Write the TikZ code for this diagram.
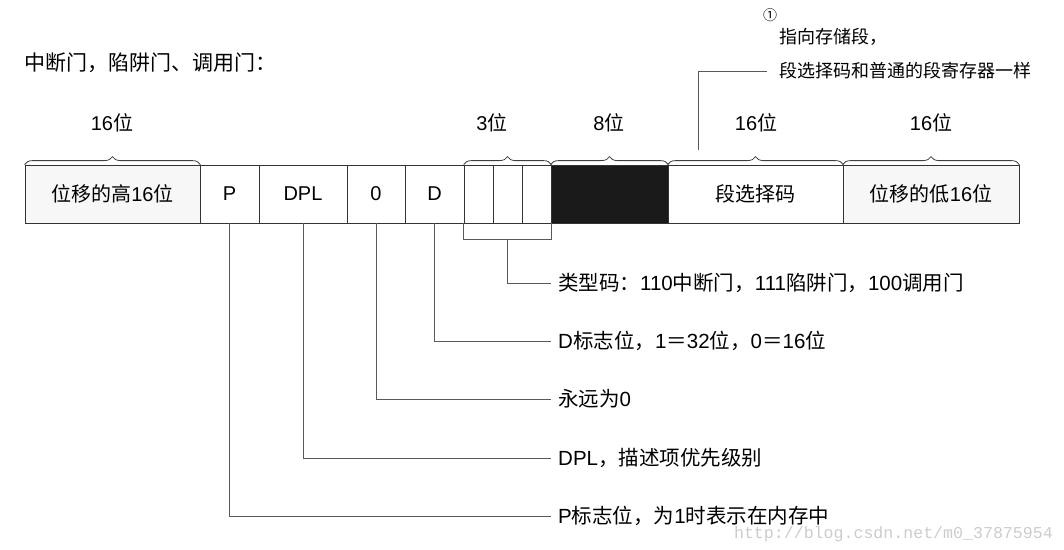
\documentclass[tikz,border=0pt]{standalone}
\usepackage{fontspec}
\setmainfont{Liberation Sans}
\newfontfamily\cjk{Noto Sans CJK SC}
\newfontfamily\wmfont{Liberation Mono}
\usetikzlibrary{decorations.pathreplacing}
\definecolor{blk}{HTML}{1A1A1A}
\definecolor{lgray}{HTML}{F7F7F7}
\begin{document}
\begin{tikzpicture}[x=1pt,y=-1pt,
  cell/.style={draw=black!80, line width=0.8pt, minimum height=58pt, inner sep=0pt, font=\fontsize{20}{24}\selectfont},
  lead/.style={draw=black!65, line width=0.9pt},
  lbl/.style={anchor=west, inner ysep=0pt, inner xsep=7pt, font=\fontsize{20.5}{24}\selectfont},
  brc/.style={draw=black!75, line width=0.8pt, decorate, decoration={brace, amplitude=8pt}},
  bits/.style={inner sep=0pt, font=\fontsize{20}{24}\selectfont},
  ]
\useasboundingbox (0,0) rectangle (1064,549);
% title
\node[anchor=west, inner sep=0pt, font=\fontsize{21}{24}\selectfont\cjk] (title) at (24,63) {中断门，陷阱门、调用门：};
% cells
\node[cell, minimum width=175pt, fill=lgray] (b1) at (112.5,194) {{\cjk 位移的高}16{\cjk 位}};
\node[cell, minimum width=59pt] (P) at (229.5,194) {P};
\node[cell, minimum width=88pt] (DPL) at (303,194) {DPL};
\node[cell, minimum width=58pt] (Z) at (376,194) {0};
\node[cell, minimum width=59pt] (D) at (434.5,194) {D};
\node[cell, minimum width=29pt] (t1) at (478.5,194) {};
\node[cell, minimum width=29pt] (t2) at (507.5,194) {};
\node[cell, minimum width=29pt] (t3) at (536.5,194) {};
\node[cell, minimum width=117pt, fill=blk] (bk) at (609.5,194) {};
\node[cell, minimum width=175pt] (sel) at (755.5,194) {\cjk 段选择码};
\node[cell, minimum width=176pt, fill=lgray] (b2) at (931,194) {{\cjk 位移的低}16{\cjk 位}};
% braces
\draw[brc] (b1.north west) -- (b1.north east);
\draw[brc] (t1.north west) -- (t3.north east);
\draw[brc] (bk.north west) -- (bk.north east);
\draw[brc] (sel.north west) -- (sel.north east);
\draw[brc] (b2.north west) -- (b2.north east);
\node[bits] (l1) at (112,123) {16{\cjk 位}};
\node[bits] (l2) at (492,123) {3{\cjk 位}};
\node[bits] (l3) at (609,123) {8{\cjk 位}};
\node[bits] (l4) at (756,123) {16{\cjk 位}};
\node[bits] (l5) at (931,123) {16{\cjk 位}};
% type bracket
\coordinate (tb) at (507.5,239);
\draw[lead] (t1.south west) -- ++(0,16) -| (t3.south east);
% labels
\node[lbl] (ty) at (551,283) {{\cjk 类型码：}110{\cjk 中断门，}111{\cjk 陷阱门，}100{\cjk 调用门}};
\node[lbl] (dl) at (551,341) {D{\cjk 标志位，}1{\cjk ＝}32{\cjk 位，}0{\cjk ＝}16{\cjk 位}};
\node[lbl] (zl) at (551,399) {{\cjk 永远为}0};
\node[lbl] (pl) at (551,458) {DPL{\cjk ，描述项优先级别}};
\node[lbl] (ppl) at (551,516) {P{\cjk 标志位，为}1{\cjk 时表示在内存中}};
\draw[lead] (tb) |- (ty.west);
\draw[lead] (D.south) |- (dl.west);
\draw[lead] (Z.south) |- (zl.west);
\draw[lead] (DPL.south) |- (pl.west);
\draw[lead] (P.south) |- (ppl.west);
% note top right
\node[inner sep=0pt, font=\fontsize{14}{16}\selectfont\cjk] (c1) at (770,15) {①};
\node[anchor=west, inner sep=0pt, font=\fontsize{18}{22}\selectfont\cjk] (n1) at (779,37) {指向存储段，};
\node[anchor=west, inner ysep=0pt, inner xsep=12pt, font=\fontsize{18}{22}\selectfont\cjk] (n2) at (767,71) {段选择码和普通的段寄存器一样};
\coordinate (selp) at (698,150);
\draw[lead] (selp) |- (n2.west);
% watermark
\node[inner sep=0pt, text=black!20, font=\wmfont\fontsize{16.6}{18}\selectfont, anchor=east] (wm) at (1053,534) {http://blog.csdn.net/m0\_37875954};
\end{tikzpicture}
\end{document}
